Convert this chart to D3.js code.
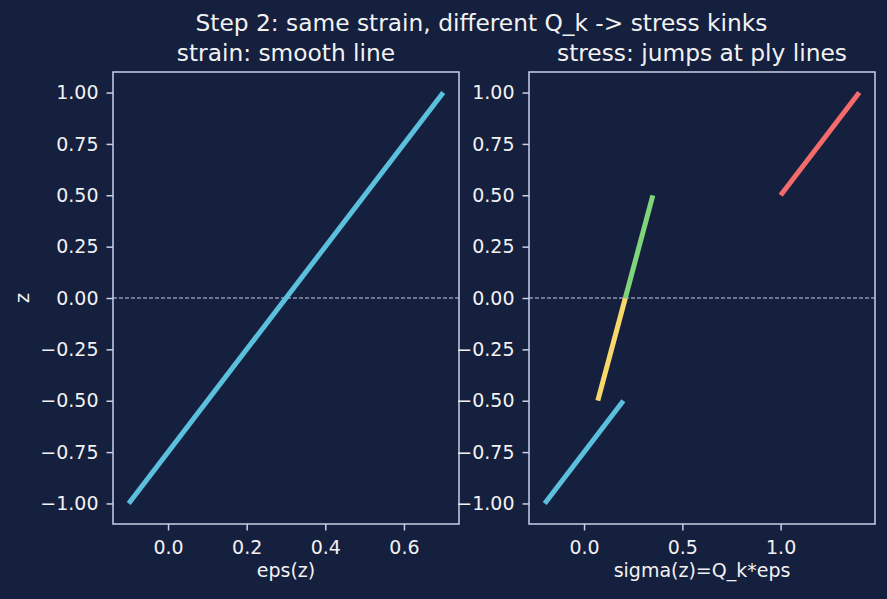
<!DOCTYPE html>
<html><head><meta charset="utf-8">
<script src="https://cdn.jsdelivr.net/npm/d3@7"></script>
<style>body{margin:0;background:#151f3e;}svg{display:block;}text{font-family:"DejaVu Sans",sans-serif;}</style>
</head><body><svg id="c" width="887" height="599"></svg>
<script>
const zTicks = [-1.00,-0.75,-0.50,-0.25,0.00,0.25,0.50,0.75,1.00];
const epsTicks = [0.0,0.2,0.4,0.6];
const sigTicks = [0.0,0.5,1.0];
const strainZ = [-1, 1];
const strainEps = [-0.1, 0.7];
const plyNames = ["ply1","ply2","ply3","ply4"];
const plyZ = [[-1,-0.5],[-0.5,0],[0,0.5],[0.5,1]];
const plyStress = [[-0.2,0.2],[0.07,0.21],[0.21,0.35],[1.0,1.4]];
const plyColors = ["#5bc0de","#f7d86a","#7fd67a","#f46b6b"];

const fg = "#f2f2f2", spine = "#c9d0e6", bg = "#151f3e";
const tickFs = 19, titleFs = 23.3;
const svg = d3.select("#c");
svg.append("rect").attr("width",887).attr("height",599).attr("fill",bg);

const topY = 72, bottomY = 524;
const y = d3.scaleLinear().domain([-1.1,1.1]).range([bottomY, topY]);

function panel(x0, x1, xdom, xticks, fmtX, title, xlabel, showZ) {
  const g = svg.append("g");
  const x = d3.scaleLinear().domain(xdom).range([x0, x1]);
  g.append("line").attr("x1",x0).attr("x2",x1).attr("y1",y(0)).attr("y2",y(0))
    .attr("stroke",spine).attr("stroke-width",1.1).attr("stroke-dasharray","4,2");
  const yAx = d3.axisLeft(y).tickValues(zTicks).tickFormat(d3.format(".2f")).tickSize(6.5).tickPadding(8);
  const ya = g.append("g").attr("transform",`translate(${x0},0)`).call(yAx);
  const xAx = d3.axisBottom(x).tickValues(xticks).tickFormat(fmtX).tickSize(6.5).tickPadding(10);
  const xa = g.append("g").attr("transform",`translate(0,${bottomY})`).call(xAx);
  [ya,xa].forEach(a=>{a.attr("font-size",tickFs).attr("font-family","DejaVu Sans");
    a.select(".domain").remove();
    a.selectAll("line").attr("stroke",spine).attr("stroke-width",1.5);
    a.selectAll("text").attr("fill",fg).style("font-size",tickFs+"px");});
  g.append("text").attr("x",(x0+x1)/2).attr("y",577).attr("text-anchor","middle")
    .attr("fill",fg).style("font-size",tickFs+"px").text(xlabel);
  g.append("text").attr("x",(x0+x1)/2).attr("y",61).attr("text-anchor","middle")
    .attr("fill",fg).style("font-size",titleFs+"px").text(title);
  if (showZ) g.append("text").attr("transform",`translate(29,${y(0)}) rotate(-90)`).attr("text-anchor","middle")
    .attr("fill",fg).style("font-size",tickFs+"px").text("z");
  return {g, x};
}

const L = panel(113, 459, [-0.14,0.74], epsTicks, d3.format(".1f"), "strain: smooth line", "eps(z)", true);
L.g.append("path").datum(strainZ.map((z,i)=>[strainEps[i],z]))
  .attr("d", d3.line().x(d=>L.x(d[0])).y(d=>y(d[1])))
  .attr("stroke",plyColors[0]).attr("stroke-width",5).attr("fill","none");
L.g.append("rect").attr("x",113).attr("y",topY).attr("width",346).attr("height",bottomY-topY)
  .attr("fill","none").attr("stroke",spine).attr("stroke-width",1.5);

const R = panel(529, 875, [-0.28,1.48], sigTicks, d3.format(".1f"), "stress: jumps at ply lines", "sigma(z)=Q_k*eps", false);
plyNames.forEach((n,i)=>{
  R.g.append("path").datum(plyZ[i].map((z,j)=>[plyStress[i][j],z]))
    .attr("d", d3.line().x(d=>R.x(d[0])).y(d=>y(d[1])))
    .attr("stroke",plyColors[i]).attr("stroke-width",5).attr("fill","none");
});
R.g.append("rect").attr("x",529).attr("y",topY).attr("width",346).attr("height",bottomY-topY)
  .attr("fill","none").attr("stroke",spine).attr("stroke-width",1.5);

svg.append("text").attr("x",481.5).attr("y",31).attr("text-anchor","middle")
  .attr("fill",fg).style("font-size",titleFs+"px").text("Step 2: same strain, different Q_k -> stress kinks");
</script></body></html>
